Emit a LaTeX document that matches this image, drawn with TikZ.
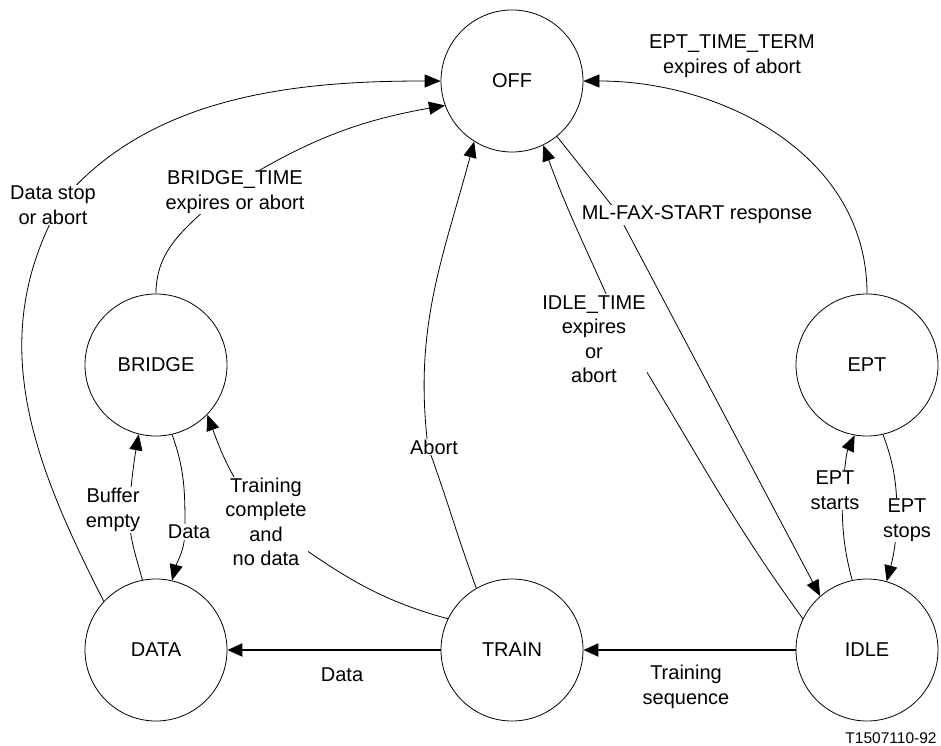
\documentclass[tikz,border=0pt]{standalone}
\usepackage{fontspec}
\setmainfont{Liberation Sans}
\usetikzlibrary{arrows.meta}
\begin{document}
\begin{tikzpicture}[x=1pt,y=1pt,
  state/.style={draw,circle,line width=0.8pt,minimum size=142pt,inner sep=0pt,font=\fontsize{20}{24.5}\selectfont},
  conn/.style={line width=0.8pt,-{Triangle[length=16pt,width=13pt]}},
  thick conn/.style={line width=2pt,-{Triangle[length=15pt,width=13pt]}},
  lab/.style={fill=white,inner sep=1pt,align=center,font=\fontsize{20}{24.5}\selectfont}]
\useasboundingbox (0,0) rectangle (941,745);
% states
\node[state] (OFF) at (512,664) {OFF};
\node[state] (BRIDGE) at (156,380) {BRIDGE};
\node[state] (DATA) at (156,95) {DATA};
\node[state] (TRAIN) at (512,95) {TRAIN};
\node[state] (IDLE) at (867,95) {IDLE};
\node[state] (EPT) at (867,380) {EPT};
% via coordinates
\coordinate (v1) at (62,544);
\coordinate (v2) at (225,554);
\coordinate (v3) at (428,298);
\coordinate (v4) at (624,410);
\coordinate (v5) at (617,533);
\coordinate (v7) at (842,258);
\coordinate (v8) at (897,227);
\coordinate (v9) at (185,213);
\coordinate (v10) at (129,235);
\coordinate (v11) at (266,223);
% connectors
\draw[conn] (DATA.137) to[out=117,in=-120] (v1) to[out=50,in=180,looseness=0.9] (OFF.180);
\draw[conn] (BRIDGE.90) to[out=90,in=-135] (v2) to[out=32,in=190] (OFF.200);
\draw[conn] (TRAIN.120) to[out=110,in=-70] (v3) to[out=97,in=-105] (OFF.238);
\draw[conn] (IDLE.154) to[out=126,in=-58] (v4) to[out=113,in=-70] (OFF.-64);
\draw[conn] (OFF.-51) -- (v5) -- (IDLE.131);
\draw[conn] (EPT.90) to[out=90,in=0] (OFF.0);
\draw[conn] (IDLE.102) to[out=105,in=-90] (v7) to[out=80,in=-115] (EPT.-100);
\draw[conn] (EPT.-77) to[out=-70,in=90] (v8) to[out=-92,in=75] (IDLE.74);
\draw[conn] (BRIDGE.-77) to[out=-70,in=90] (v9) to[out=-92,in=75] (DATA.77);
\draw[conn] (DATA.101) to[out=105,in=-90] (v10) to[out=85,in=-100] (BRIDGE.-104);
\draw[conn] (TRAIN.154) to[out=165,in=-35] (v11) to[out=130,in=-70] (BRIDGE.-44);
\draw[thick conn] (TRAIN) -- (DATA);
\draw[thick conn] (IDLE) -- (TRAIN);
% labels
\node[lab] (l1) at (53,540) {Data stop\\or abort};
\node[lab] (l2) at (235,553) {BRIDGE\_TIME\\expires or abort};
\node[lab] (l3) at (434,298) {Abort};
\node[lab] (l4) at (594,406) {IDLE\_TIME\\expires\\or\\abort};
\node[lab] (l5) at (697,530) {ML-FAX-START response};
\node[lab] (l6) at (732,689) {EPT\_TIME\_TERM\\expires of abort};
\node[lab] (l7) at (835,255) {EPT\\starts};
\node[lab] (l8) at (907,225) {EPT\\stops};
\node[lab] (l9) at (189,213) {Data};
\node[lab] (l10) at (113,235) {Buffer\\empty};
\node[lab] (l11) at (266,223) {Training\\complete\\and\\no data};
\node[lab] (l12) at (342,70) {Data};
\node[lab] (l13) at (686,58) {Training\\sequence};
\node[inner sep=0pt,font=\fontsize{15.5}{18}\selectfont] (l14) at (891,7) {T1507110-92};
\end{tikzpicture}
\end{document}
